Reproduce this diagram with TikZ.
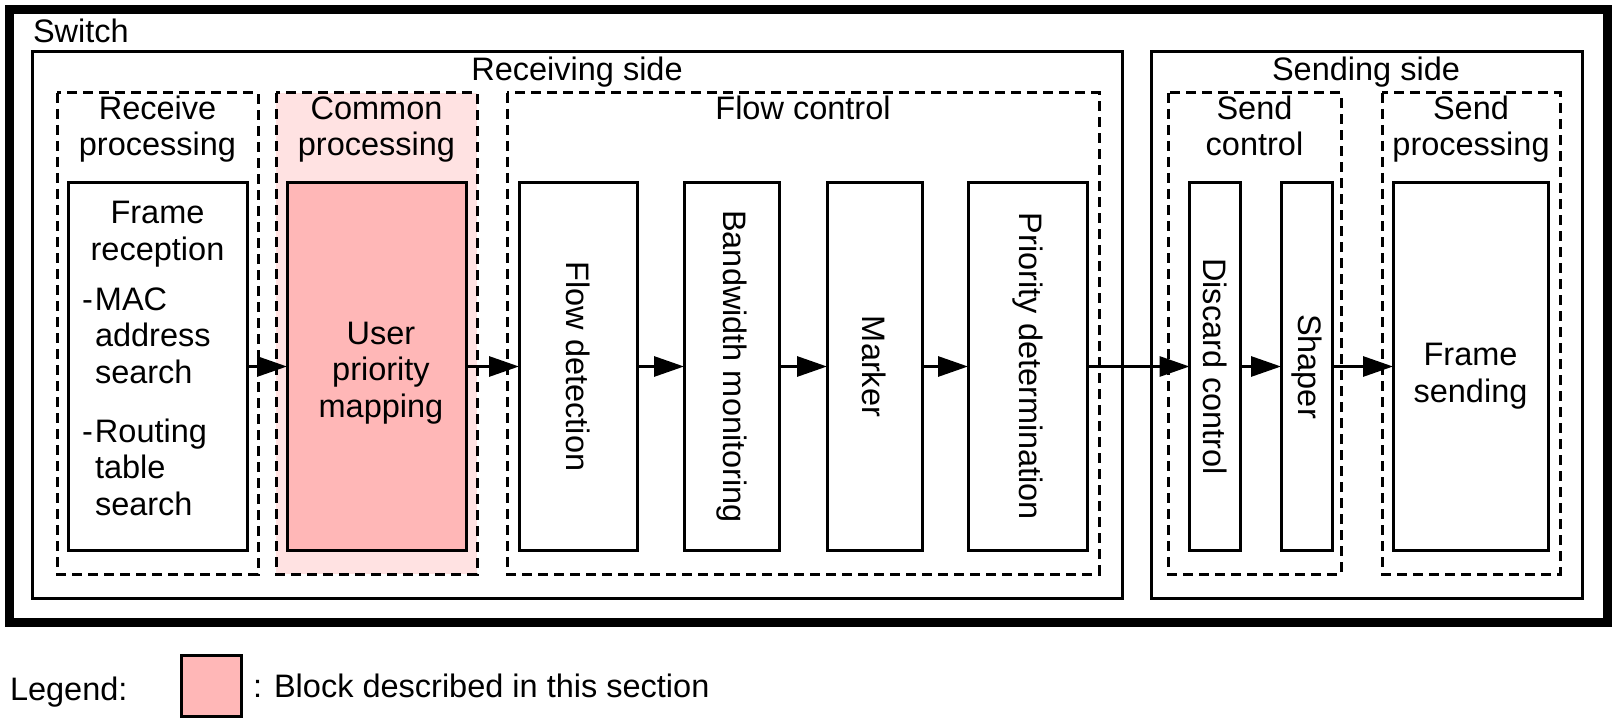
\documentclass[tikz,border=0pt]{standalone}
\usepackage{fontspec}
\setmainfont{Liberation Sans}
\usetikzlibrary{arrows.meta,positioning}
\definecolor{blockred}{RGB}{255,183,183}
\definecolor{commonpink}{RGB}{255,226,226}
\begin{document}
\begin{tikzpicture}[x=1pt, y=-1pt, line width=3pt,
    every node/.style={font=\fontsize{32.5}{36.5}\selectfont, inner sep=0pt, outer sep=0pt},
    groupbox/.style={draw, dash pattern=on 10pt off 6pt},
    block/.style={draw, fill=white, minimum height=367pt},
    vtext/.style={rotate=-90},
    flow/.style={-{Triangle[length=30pt,width=20pt]}}]
        \useasboundingbox (0, 0) rectangle (1616, 722);
        % frames
        \draw [line width=9pt] (9, 10) rectangle (1607, 622);
        \node [anchor=base west] (switch) at (33, 43) {Switch};
        \draw (32, 52) rectangle (1122, 598);
        \draw (1151, 52) rectangle (1582, 598);
        \node [anchor=base] (recvside) at (577, 81) {Receiving side};
        \node [anchor=base] (sendside) at (1366, 81) {Sending side};
        % dashed groups
        \draw [groupbox] (57, 93) rectangle (258, 574);
        \draw [groupbox, fill=commonpink] (276, 93) rectangle (477, 574);
        \draw [groupbox] (507, 93) rectangle (1099, 574);
        \draw [groupbox] (1168, 93) rectangle (1341, 574);
        \draw [groupbox] (1382, 93) rectangle (1560, 574);
        \node [anchor=base, align=center] (recvproc) at (157.5, 156) {Receive\\processing};
        \node [anchor=base, align=center] (commproc) at (376.5, 156) {Common\\processing};
        \node [anchor=base] (flowctl) at (803, 120) {Flow control};
        \node [anchor=base, align=center] (sendctl) at (1254.5, 156) {Send\\control};
        \node [anchor=base, align=center] (sendproc) at (1471, 156) {Send\\processing};
        % blocks
        \node [block, minimum width=179pt] (frecv) at (157.5, 366.5) {};
        \node [block, minimum width=179pt, fill=blockred] (upm) at (376.5, 366.5) {};
        \node [block, minimum width=118pt] (fdet) at (578, 366.5) {};
        \node [block, minimum width=95pt] (bwm) at (731.5, 366.5) {};
        \node [block, minimum width=95pt] (mark) at (874.5, 366.5) {};
        \node [block, minimum width=119pt] (prio) at (1027.5, 366.5) {};
        \node [block, minimum width=51pt] (disc) at (1215, 366.5) {};
        \node [block, minimum width=51pt] (shap) at (1306.5, 366.5) {};
        \node [block, minimum width=155pt] (fsend) at (1470.5, 366.5) {};
        % block texts
        \node [anchor=base, align=center] (frtitle) at (157.5, 260) {Frame\\reception};
        \node [anchor=base west, align=left] (frmac) at (82, 383)
            {\makebox[13pt][l]{-}MAC\\\hspace*{13pt}address\\\hspace*{13pt}search};
        \node [anchor=base west, align=left] (frroute) at (82, 515)
            {\makebox[13pt][l]{-}Routing\\\hspace*{13pt}table\\\hspace*{13pt}search};
        \node [anchor=base, align=center] (upmtxt) at (381, 417) {User\\priority\\mapping};
        \node [vtext] (fdettxt) at (fdet.center) {Flow detection};
        \node [vtext] (bwmtxt) at (bwm.center) {Bandwidth monitoring};
        \node [vtext] (marktxt) at (mark.center) {Marker};
        \node [vtext] (priotxt) at (prio.center) {Priority determination};
        \node [vtext] (disctxt) at (disc.center) {Discard control};
        \node [vtext] (shaptxt) at (shap.center) {Shaper};
        \node [anchor=base, align=center] (fsendtxt) at (1470.5, 402) {Frame\\sending};
        % connectors
        \draw [flow] (frecv.east) -- (upm.west);
        \draw [flow] (upm.east) -- (fdet.west);
        \draw [flow] (fdet.east) -- (bwm.west);
        \draw [flow] (bwm.east) -- (mark.west);
        \draw [flow] (mark.east) -- (prio.west);
        \draw [flow] (prio.east) -- (disc.west);
        \draw [flow] (disc.east) -- (shap.west);
        \draw [flow] (shap.east) -- (fsend.west);
        % legend
        \node [anchor=base west] (legend) at (10, 700) {Legend:};
        \node [draw, fill=blockred, minimum width=60pt, minimum height=61pt] (legbox) at (211, 685.5) {};
        \node [anchor=base west] (legtxt) at (253, 697) {: Block described in this section};
      \end{tikzpicture}
\end{document}
